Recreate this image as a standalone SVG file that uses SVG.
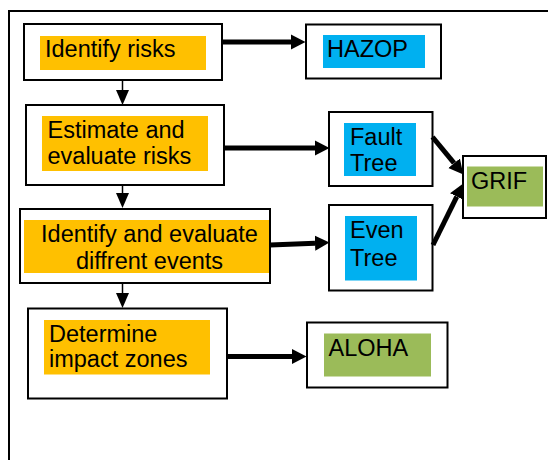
<svg xmlns="http://www.w3.org/2000/svg" width="548" height="460" viewBox="0 0 548 460">
<defs>
<style>
.box{fill:#fff;stroke:#000;stroke-width:2}
.or{fill:#ffc000}
.bl{fill:#00b0f0}
.gr{fill:#9bbb59}
.t{font-family:"Liberation Sans",Arial,sans-serif;font-size:23.5px;fill:#000}
.thick{stroke:#000;stroke-width:5;fill:none}
.thin{stroke:#000;stroke-width:1.5;fill:none}
</style>
<marker id="ah" markerUnits="userSpaceOnUse" markerWidth="15" markerHeight="16" refX="0" refY="8" orient="auto" viewBox="0 0 15 16">
<path d="M0,0.5 L14.5,8 L0,15.5 z" fill="#000"/>
</marker>
<marker id="av" markerUnits="userSpaceOnUse" markerWidth="15" markerHeight="14" refX="0" refY="7" orient="auto" viewBox="0 0 15 14">
<path d="M0,0.5 L15,7 L0,13.5 z" fill="#000"/>
</marker>
</defs>
<rect width="548" height="460" fill="#fff"/>
<path d="M9,462 V11 H550" fill="none" stroke="#000" stroke-width="2"/>

<g id="n1">
<rect class="box" x="24" y="24" width="198" height="56"/>
<rect class="or" x="40" y="36" width="166" height="34"/>
<text class="t" x="45" y="57">Identify risks</text>
</g>
<g id="n2">
<rect class="box" x="26" y="105" width="198" height="80"/>
<rect class="or" x="42" y="116" width="166" height="55"/>
<text class="t" x="47.5" y="137.5">Estimate and</text>
<text class="t" x="47.5" y="164">evaluate risks</text>
</g>
<g id="n3">
<rect class="box" x="20" y="209" width="250" height="74"/>
<rect class="or" x="24" y="220" width="245" height="53"/>
<text class="t" x="149.5" y="242" text-anchor="middle">Identify and evaluate</text>
<text class="t" x="149.5" y="268.5" text-anchor="middle">diffrent events</text>
</g>
<g id="n4">
<rect class="box" x="28" y="308.5" width="199" height="90"/>
<rect class="or" x="44" y="320" width="166" height="54.5"/>
<text class="t" x="49" y="341.5">Determine</text>
<text class="t" x="49" y="366.5">impact zones</text>
</g>
<g id="hazop">
<rect class="box" x="306" y="24.5" width="135" height="54"/>
<rect class="bl" x="323" y="35" width="102" height="33"/>
<text class="t" x="327" y="57">HAZOP</text>
</g>
<g id="fault">
<rect class="box" x="329" y="112" width="103.5" height="74"/>
<rect class="bl" x="344" y="123" width="72" height="53"/>
<text class="t" x="350" y="144.5">Fault</text>
<text class="t" x="350" y="170.5">Tree</text>
</g>
<g id="even">
<rect class="box" x="329" y="205" width="103.5" height="85.5"/>
<rect class="bl" x="345" y="216" width="72" height="64.5"/>
<text class="t" x="350" y="237.5">Even</text>
<text class="t" x="350" y="266">Tree</text>
</g>
<g id="grif">
<rect class="box" x="463" y="156" width="83" height="62"/>
<rect class="gr" x="467" y="166.5" width="76" height="40"/>
<text class="t" x="471" y="188.5">GRIF</text>
</g>
<g id="aloha">
<rect class="box" x="307" y="322.5" width="140.5" height="65"/>
<rect class="gr" x="324" y="333.5" width="107" height="43"/>
<text class="t" x="328.5" y="355.5">ALOHA</text>
</g>

<g id="connectors">
<line class="thin" x1="122.5" y1="80" x2="122.5" y2="90" marker-end="url(#av)"/>
<line class="thin" x1="122.5" y1="185" x2="122.5" y2="193" marker-end="url(#av)"/>
<line class="thin" x1="122.5" y1="283" x2="122.5" y2="293" marker-end="url(#av)"/>
<line class="thick" x1="222" y1="42" x2="291" y2="42" marker-end="url(#ah)"/>
<line class="thick" x1="224" y1="148" x2="315" y2="148" marker-end="url(#ah)"/>
<line class="thick" x1="270" y1="245" x2="315" y2="243.2" marker-end="url(#ah)"/>
<line class="thick" x1="227" y1="356.5" x2="292" y2="356.5" marker-end="url(#ah)"/>
<line class="thick" x1="432.5" y1="137" x2="454.1" y2="163.2" marker-end="url(#ah)"/>
<line class="thick" x1="433" y1="245" x2="456.8" y2="196.6" marker-end="url(#ah)"/>
</g>
</svg>
